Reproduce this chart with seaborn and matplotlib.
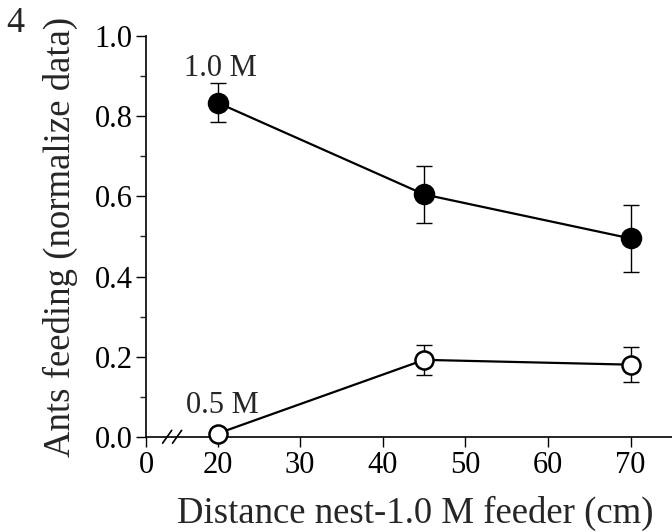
import matplotlib
matplotlib.use("Agg")
import matplotlib.pyplot as plt
import matplotlib.transforms as mtransforms
import seaborn as sns
import pandas as pd

# data
distance = [20, 45, 70]
feed_1m = [0.834, 0.605, 0.495]
err_1m = [0.048, 0.072, 0.083]
feed_05m = [0.008, 0.192, 0.180]
err_05m = [0.006, 0.037, 0.043]

x_origin = 11.4  # where the broken axis starts, labelled "0"
xtick_pos = [x_origin, 20, 30, 40, 50, 60, 70]
xtick_labels = ["0", "20", "30", "40", "50", "60", "70"]
ytick_pos = [0.0, 0.2, 0.4, 0.6, 0.8, 1.0]

sns.set_style("ticks")
plt.rcParams["font.family"] = ["Liberation Serif", "DejaVu Serif"]

fig = plt.figure(figsize=(6.72, 5.32), dpi=100)
ax = fig.add_axes([0.218, 0.179, 0.782, 0.753])

df = pd.DataFrame({"distance": distance, "m1": feed_1m, "m05": feed_05m})

# error bars first so the markers cover them
ax.errorbar(distance, feed_1m, yerr=err_1m, fmt="none", ecolor="k",
            elinewidth=1.0, capsize=6, capthick=1.0, zorder=2, clip_on=False)
ax.errorbar(distance, feed_05m, yerr=err_05m, fmt="none", ecolor="k",
            elinewidth=1.0, capsize=6, capthick=1.0, zorder=2, clip_on=False)

sns.lineplot(data=df, x="distance", y="m1", ax=ax, color="k", lw=1.6,
             marker="o", markersize=14, markerfacecolor="k",
             markeredgecolor="k", markeredgewidth=1.5, zorder=3, clip_on=False)
sns.lineplot(data=df, x="distance", y="m05", ax=ax, color="k", lw=1.6,
             marker="o", markersize=13, markerfacecolor="white",
             markeredgecolor="k", markeredgewidth=1.8, zorder=3, clip_on=False)

ax.set_xlim(x_origin, 75)
ax.set_ylim(0, 1.0)
ax.set_xticks(xtick_pos)
ax.set_xticklabels(xtick_labels)
ax.set_yticks(ytick_pos)
ax.set_yticklabels([f"{v:.1f}" for v in ytick_pos])
ax.set_yticks([0.1, 0.3, 0.5, 0.7, 0.9], minor=True)
ax.tick_params(axis="both", which="major", direction="out", length=7,
               width=1.0, labelsize=22, pad=3, color="k", labelcolor="k")
ax.tick_params(axis="y", which="minor", direction="out", length=4, width=1.0)

sns.despine(ax=ax)
for s in ["left", "bottom"]:
    ax.spines[s].set_linewidth(1.2)
    ax.spines[s].set_color("k")

ax.set_xlabel("Distance nest-1.0 M feeder (cm)", fontsize=26.5)
ax.set_ylabel("Ants feeding (normalize data)", fontsize=26.5)
ax.xaxis.set_label_coords(0.512, -0.148)
ax.yaxis.set_label_coords(-0.13, 0.5)

# axis break marks
trans = mtransforms.blended_transform_factory(ax.transData, ax.transAxes)
for xb in [13.9, 15.1]:
    ax.plot([xb - 0.55, xb + 0.55], [-0.016, 0.016], color="k", lw=1.2,
            transform=trans, clip_on=False)

ax.text(20.3, 0.92, "1.0 M", fontsize=22, ha="center", va="center")
ax.text(20.6, 0.078, "0.5 M", fontsize=22, ha="center", va="center")

fig.text(0.01, 0.955, "4", fontsize=26, ha="left", va="center")

fig.savefig("out.png", dpi=100)
